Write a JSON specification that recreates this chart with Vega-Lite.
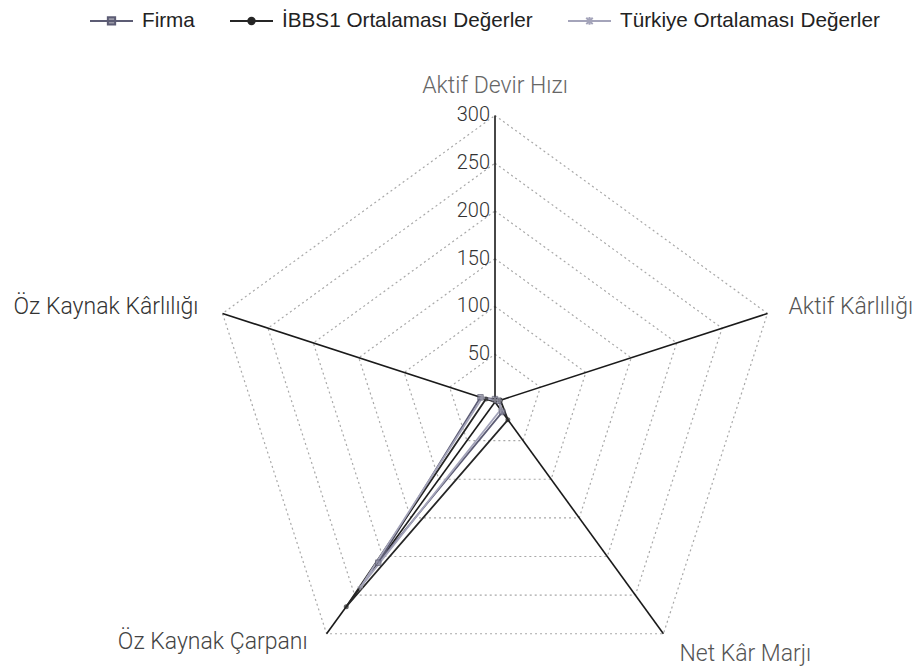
{
  "$schema": "https://vega.github.io/schema/vega-lite/v6.json",
  "width": 920,
  "height": 667,
  "autosize": {"type": "none"},
  "padding": 0,
  "background": "white",
  "config": {"view": {"stroke": null}},
  "datasets": {
    "series": [
      {"series": "Firma", "axis": "Aktif Devir Hızı", "idx": 0, "value": 3},
      {"series": "Firma", "axis": "Aktif Kârlılığı", "idx": 1, "value": 4},
      {"series": "Firma", "axis": "Net Kâr Marjı", "idx": 2, "value": 13},
      {"series": "Firma", "axis": "Öz Kaynak Çarpanı", "idx": 3, "value": 208},
      {"series": "Firma", "axis": "Öz Kaynak Kârlılığı", "idx": 4, "value": 16},
      {"series": "İBBS1 Ortalaması Değerler", "axis": "Aktif Devir Hızı", "idx": 0, "value": 2},
      {"series": "İBBS1 Ortalaması Değerler", "axis": "Aktif Kârlılığı", "idx": 1, "value": 6},
      {"series": "İBBS1 Ortalaması Değerler", "axis": "Net Kâr Marjı", "idx": 2, "value": 23},
      {"series": "İBBS1 Ortalaması Değerler", "axis": "Öz Kaynak Çarpanı", "idx": 3, "value": 265},
      {"series": "İBBS1 Ortalaması Değerler", "axis": "Öz Kaynak Kârlılığı", "idx": 4, "value": 10},
      {"series": "Türkiye Ortalaması Değerler", "axis": "Aktif Devir Hızı", "idx": 0, "value": 2},
      {"series": "Türkiye Ortalaması Değerler", "axis": "Aktif Kârlılığı", "idx": 1, "value": 5},
      {"series": "Türkiye Ortalaması Değerler", "axis": "Net Kâr Marjı", "idx": 2, "value": 10},
      {"series": "Türkiye Ortalaması Değerler", "axis": "Öz Kaynak Çarpanı", "idx": 3, "value": 240},
      {"series": "Türkiye Ortalaması Değerler", "axis": "Öz Kaynak Kârlılığı", "idx": 4, "value": 14}
    ],
    "axes": [
      {"axis": "Aktif Devir Hızı", "idx": 0},
      {"axis": "Aktif Kârlılığı", "idx": 1},
      {"axis": "Net Kâr Marjı", "idx": 2},
      {"axis": "Öz Kaynak Çarpanı", "idx": 3},
      {"axis": "Öz Kaynak Kârlılığı", "idx": 4}
    ],
    "rings": [
      {"ring": 50, "idx": 0}, {"ring": 50, "idx": 1}, {"ring": 50, "idx": 2}, {"ring": 50, "idx": 3}, {"ring": 50, "idx": 4},
      {"ring": 100, "idx": 0}, {"ring": 100, "idx": 1}, {"ring": 100, "idx": 2}, {"ring": 100, "idx": 3}, {"ring": 100, "idx": 4},
      {"ring": 150, "idx": 0}, {"ring": 150, "idx": 1}, {"ring": 150, "idx": 2}, {"ring": 150, "idx": 3}, {"ring": 150, "idx": 4},
      {"ring": 200, "idx": 0}, {"ring": 200, "idx": 1}, {"ring": 200, "idx": 2}, {"ring": 200, "idx": 3}, {"ring": 200, "idx": 4},
      {"ring": 250, "idx": 0}, {"ring": 250, "idx": 1}, {"ring": 250, "idx": 2}, {"ring": 250, "idx": 3}, {"ring": 250, "idx": 4},
      {"ring": 300, "idx": 0}, {"ring": 300, "idx": 1}, {"ring": 300, "idx": 2}, {"ring": 300, "idx": 3}, {"ring": 300, "idx": 4}
    ],
    "ticks": [
      {"tick": 50}, {"tick": 100}, {"tick": 150}, {"tick": 200}, {"tick": 250}, {"tick": 300}
    ]
  },
  "layer": [
    {
      "data": {"name": "rings"},
      "transform": [
        {"calculate": "PI/2 - datum.idx*2*PI/5", "as": "theta"},
        {"calculate": "datum.ring*cos(datum.theta)", "as": "gx"},
        {"calculate": "datum.ring*sin(datum.theta)", "as": "gy"}
      ],
      "mark": {"type": "line", "interpolate": "linear-closed", "stroke": "#a8a8a8", "strokeWidth": 1.2, "strokeDash": [2, 3]},
      "encoding": {
        "x": {"field": "gx", "type": "quantitative", "scale": {"domain": [-518.3, 445.0], "nice": false, "zero": false}, "axis": null},
        "y": {"field": "gy", "type": "quantitative", "scale": {"domain": [-277.5, 420.9], "nice": false, "zero": false}, "axis": null},
        "detail": {"field": "ring", "type": "nominal"},
        "order": {"field": "idx", "type": "quantitative"}
      }
    },
    {
      "data": {"name": "axes"},
      "transform": [
        {"calculate": "PI/2 - datum.idx*2*PI/5", "as": "theta"},
        {"calculate": "0", "as": "ox"},
        {"calculate": "300*cos(datum.theta)", "as": "ex"},
        {"calculate": "300*sin(datum.theta)", "as": "ey"}
      ],
      "mark": {"type": "rule", "stroke": "#1a1a1a", "strokeWidth": 1.6},
      "encoding": {
        "x": {"field": "ox", "type": "quantitative"},
        "y": {"field": "ox", "type": "quantitative"},
        "x2": {"field": "ex"},
        "y2": {"field": "ey"}
      }
    },
    {
      "data": {"name": "series"},
      "transform": [
        {"calculate": "PI/2 - datum.idx*2*PI/5", "as": "theta"},
        {"calculate": "datum.value*cos(datum.theta)", "as": "px"},
        {"calculate": "datum.value*sin(datum.theta)", "as": "py"}
      ],
      "mark": {"type": "line", "interpolate": "linear-closed", "strokeWidth": 1.8},
      "encoding": {
        "x": {"field": "px", "type": "quantitative"},
        "y": {"field": "py", "type": "quantitative"},
        "order": {"field": "idx", "type": "quantitative"},
        "color": {
          "field": "series", "type": "nominal",
          "scale": {"domain": ["Firma", "İBBS1 Ortalaması Değerler", "Türkiye Ortalaması Değerler"], "range": ["#5c5c74", "#262626", "#a4a4ba"]},
          "legend": {
            "orient": "none", "legendX": 89, "legendY": -2, "direction": "horizontal", "title": null,
            "labelFont": "Liberation Sans", "labelFontSize": 20.7, "labelColor": "#222", "labelLimit": 500,
            "symbolSize": 1849, "symbolStrokeWidth": 2, "labelOffset": 8, "columnPadding": 31,
            "encode": {
              "symbols": {
                "update": {
                  "shape": {"signal": "datum.value == 'Firma' ? 'M-1,0H1M-0.17,-0.17H0.17V0.17H-0.17Z' : (datum.value == 'Türkiye Ortalaması Değerler' ? 'M-1,0H1M-0.15,-0.15L0.15,0.15M-0.15,0.15L0.15,-0.15M0,-0.18V0.18' : 'M-1,0H1M0.15,0A0.15,0.15,0,1,1,-0.15,0A0.15,0.15,0,1,1,0.15,0Z')"},
                  "fill": {"signal": "datum.value == 'Firma' ? '#9a9aa8' : (datum.value == 'Türkiye Ortalaması Değerler' ? '#b8b8c0' : '#222222')"}
                }
              }
            }
          }
        }
      }
    },
    {
      "data": {"name": "series"},
      "transform": [
        {"filter": "datum.series == 'Firma'"},
        {"calculate": "PI/2 - datum.idx*2*PI/5", "as": "theta"},
        {"calculate": "datum.value*cos(datum.theta)", "as": "px"},
        {"calculate": "datum.value*sin(datum.theta)", "as": "py"}
      ],
      "mark": {"type": "point", "shape": "square", "filled": true, "size": 30, "fill": "#8a8aa0", "stroke": "#55556a", "strokeWidth": 1},
      "encoding": {
        "x": {"field": "px", "type": "quantitative"},
        "y": {"field": "py", "type": "quantitative"}
      }
    },
    {
      "data": {"name": "series"},
      "transform": [
        {"filter": "datum.series == 'İBBS1 Ortalaması Değerler'"},
        {"calculate": "PI/2 - datum.idx*2*PI/5", "as": "theta"},
        {"calculate": "datum.value*cos(datum.theta)", "as": "px"},
        {"calculate": "datum.value*sin(datum.theta)", "as": "py"}
      ],
      "mark": {"type": "point", "shape": "circle", "filled": true, "size": 25, "fill": "#262626"},
      "encoding": {
        "x": {"field": "px", "type": "quantitative"},
        "y": {"field": "py", "type": "quantitative"}
      }
    },
    {
      "data": {"name": "series"},
      "transform": [
        {"filter": "datum.series == 'Türkiye Ortalaması Değerler'"},
        {"calculate": "PI/2 - datum.idx*2*PI/5", "as": "theta"},
        {"calculate": "datum.value*cos(datum.theta)", "as": "px"},
        {"calculate": "datum.value*sin(datum.theta)", "as": "py"}
      ],
      "mark": {"type": "point", "shape": "cross", "filled": true, "size": 30, "fill": "#9a9aa8"},
      "encoding": {
        "x": {"field": "px", "type": "quantitative"},
        "y": {"field": "py", "type": "quantitative"}
      }
    },
    {
      "data": {"name": "ticks"},
      "transform": [{"calculate": "0", "as": "ox"}],
      "mark": {"type": "text", "align": "right", "baseline": "middle", "dx": -5, "font": "Roboto", "fontSize": 20, "fontWeight": 300, "fill": "#333"},
      "encoding": {
        "x": {"field": "ox", "type": "quantitative"},
        "y": {"field": "tick", "type": "quantitative"},
        "text": {"field": "tick", "type": "quantitative"}
      }
    },
    {
      "data": {"name": "axes"},
      "transform": [
        {"filter": "datum.idx == 0"},
        {"calculate": "PI/2 - datum.idx*2*PI/5", "as": "theta"},
        {"calculate": "300*cos(datum.theta)", "as": "ex"},
        {"calculate": "300*sin(datum.theta)", "as": "ey"}
      ],
      "mark": {"type": "text", "align": "center", "baseline": "alphabetic", "dy": -22, "font": "Roboto", "fontWeight": 300, "fontSize": 23, "fill": "#666"},
      "encoding": {"x": {"field": "ex", "type": "quantitative"}, "y": {"field": "ey", "type": "quantitative"}, "text": {"field": "axis", "type": "nominal"}}
    },
    {
      "data": {"name": "axes"},
      "transform": [
        {"filter": "datum.idx == 1"},
        {"calculate": "PI/2 - datum.idx*2*PI/5", "as": "theta"},
        {"calculate": "300*cos(datum.theta)", "as": "ex"},
        {"calculate": "300*sin(datum.theta)", "as": "ey"}
      ],
      "mark": {"type": "text", "align": "left", "baseline": "middle", "dx": 21, "dy": -6, "font": "Roboto", "fontWeight": 300, "fontSize": 23, "fill": "#555"},
      "encoding": {"x": {"field": "ex", "type": "quantitative"}, "y": {"field": "ey", "type": "quantitative"}, "text": {"field": "axis", "type": "nominal"}}
    },
    {
      "data": {"name": "axes"},
      "transform": [
        {"filter": "datum.idx == 2"},
        {"calculate": "PI/2 - datum.idx*2*PI/5", "as": "theta"},
        {"calculate": "300*cos(datum.theta)", "as": "ex"},
        {"calculate": "300*sin(datum.theta)", "as": "ey"}
      ],
      "mark": {"type": "text", "align": "left", "baseline": "middle", "dx": 16, "dy": 20, "font": "Roboto", "fontWeight": 300, "fontSize": 23, "fill": "#555"},
      "encoding": {"x": {"field": "ex", "type": "quantitative"}, "y": {"field": "ey", "type": "quantitative"}, "text": {"field": "axis", "type": "nominal"}}
    },
    {
      "data": {"name": "axes"},
      "transform": [
        {"filter": "datum.idx == 3"},
        {"calculate": "PI/2 - datum.idx*2*PI/5", "as": "theta"},
        {"calculate": "300*cos(datum.theta)", "as": "ex"},
        {"calculate": "300*sin(datum.theta)", "as": "ey"}
      ],
      "mark": {"type": "text", "align": "right", "baseline": "middle", "dx": -19, "dy": 8, "font": "Roboto", "fontWeight": 300, "fontSize": 23, "fill": "#444"},
      "encoding": {"x": {"field": "ex", "type": "quantitative"}, "y": {"field": "ey", "type": "quantitative"}, "text": {"field": "axis", "type": "nominal"}}
    },
    {
      "data": {"name": "axes"},
      "transform": [
        {"filter": "datum.idx == 4"},
        {"calculate": "PI/2 - datum.idx*2*PI/5", "as": "theta"},
        {"calculate": "300*cos(datum.theta)", "as": "ex"},
        {"calculate": "300*sin(datum.theta)", "as": "ey"}
      ],
      "mark": {"type": "text", "align": "right", "baseline": "middle", "dx": -24, "dy": -6, "font": "Roboto", "fontWeight": 300, "fontSize": 23, "fill": "#333"},
      "encoding": {"x": {"field": "ex", "type": "quantitative"}, "y": {"field": "ey", "type": "quantitative"}, "text": {"field": "axis", "type": "nominal"}}
    }
  ]
}
